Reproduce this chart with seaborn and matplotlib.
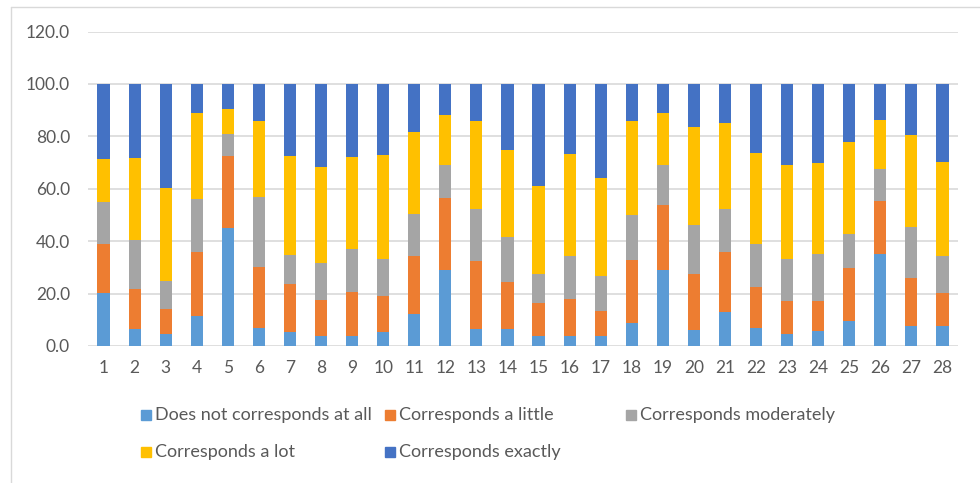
import pandas as pd
import matplotlib
matplotlib.use("Agg")
import matplotlib.pyplot as plt
import seaborn as sns
from matplotlib.patches import Rectangle
from matplotlib.lines import Line2D

# survey items 1..28, share of answers per level (percent)
items = [str(i) for i in range(1, 29)]
series_names = [
    "Does not corresponds at all",
    "Corresponds a little",
    "Corresponds moderately",
    "Corresponds a lot",
    "Corresponds exactly",
]
not_at_all = [20.4, 6.6, 4.6, 11.6, 44.9, 7.0, 5.3, 3.8, 3.8, 5.3, 12.2, 29.1, 6.5, 6.5,
              3.8, 3.8, 3.8, 8.9, 29.1, 6.2, 13.1, 7.0, 4.6, 5.7, 9.4, 35.2, 7.8, 7.8]
a_little = [18.4, 15.3, 9.6, 24.4, 27.7, 23.3, 18.2, 13.8, 16.9, 13.8, 22.3, 27.5, 25.8, 17.8,
            12.5, 14.1, 9.7, 23.9, 24.6, 21.4, 22.9, 15.6, 12.4, 11.3, 20.5, 20.1, 18.2, 12.4]
moderately = [16.2, 18.6, 10.6, 20.1, 8.2, 26.6, 11.2, 14.0, 16.3, 14.0, 16.0, 12.4, 20.1, 17.3,
              11.3, 16.6, 13.2, 17.2, 15.4, 18.7, 16.2, 16.2, 16.2, 18.2, 13.0, 12.4, 19.3, 14.3]
a_lot = [16.4, 31.4, 35.4, 32.7, 9.5, 29.0, 37.9, 36.6, 35.1, 39.8, 31.3, 19.3, 33.5, 33.3,
         33.3, 38.9, 37.5, 35.9, 20.0, 37.2, 32.9, 35.0, 35.8, 34.5, 35.0, 18.7, 35.4, 35.7]
exactly = [28.6, 28.1, 39.8, 11.2, 9.7, 14.1, 27.4, 31.8, 27.9, 27.1, 18.2, 11.7, 14.1, 25.1,
           39.1, 26.6, 35.8, 14.1, 10.9, 16.5, 14.9, 26.2, 31.0, 30.3, 22.1, 13.6, 19.3, 29.8]

colors = ["#5B9BD5", "#ED7D31", "#A5A5A5", "#FFC000", "#4472C4"]
text_color = "#595959"
grid_color = "#D9D9D9"

df = pd.DataFrame(
    dict(zip(series_names, [not_at_all, a_little, moderately, a_lot, exactly])),
    index=items,
)
cum = df.cumsum(axis=1)

sns.set_theme(style="white")
plt.rcParams["font.family"] = ["Lato", "DejaVu Sans"]

fig = plt.figure(figsize=(9.8, 4.83), dpi=100)
ax = fig.add_axes([88 / 980, 1 - 346 / 483, 870 / 980, (346 - 31.6) / 483])

# draw cumulative totals from the top level down so each level covers the next
for name, color in reversed(list(zip(series_names, colors))):
    sns.barplot(x=items, y=cum[name].values, order=items, color=color,
                saturation=1, width=0.39, ax=ax, linewidth=0, zorder=3)

ax.set_ylim(0, 120)
ax.set_xlim(-0.5, 27.5)
ax.set_yticks(range(0, 121, 20))
ax.set_yticklabels([f"{v:.1f}" for v in range(0, 121, 20)])
ax.yaxis.grid(True, color=grid_color, linewidth=1.2, zorder=0)
ax.set_axisbelow(True)
for s in ax.spines.values():
    s.set_visible(False)
ax.tick_params(axis="y", length=0, pad=13, labelsize=12.5, labelcolor=text_color)
ax.tick_params(axis="x", length=0, pad=10, labelsize=12.5, labelcolor=text_color)
ax.set_xlabel("")
ax.set_ylabel("")

# chart frame as in the original
fig.add_artist(Line2D([11 / 980, 11 / 980], [0, 1 - 7 / 483], color=grid_color,
                      lw=1, transform=fig.transFigure))
fig.add_artist(Line2D([11 / 980, 1], [1 - 7 / 483, 1 - 7 / 483], color=grid_color,
                      lw=1, transform=fig.transFigure))

# legend laid out in rows like the original
legend_pos = [(141, 415), (385, 415), (626, 415), (141, 452), (385, 452)]
for (px, py), name, color in zip(legend_pos, series_names, colors):
    fig.add_artist(Rectangle((px / 980, 1 - (py + 5) / 483), 10 / 980, 10 / 483,
                             color=color, transform=fig.transFigure))
    fig.text((px + 14) / 980, 1 - py / 483, name, fontsize=13, color=text_color,
             va="center", ha="left")

fig.savefig("out.png", dpi=100)
